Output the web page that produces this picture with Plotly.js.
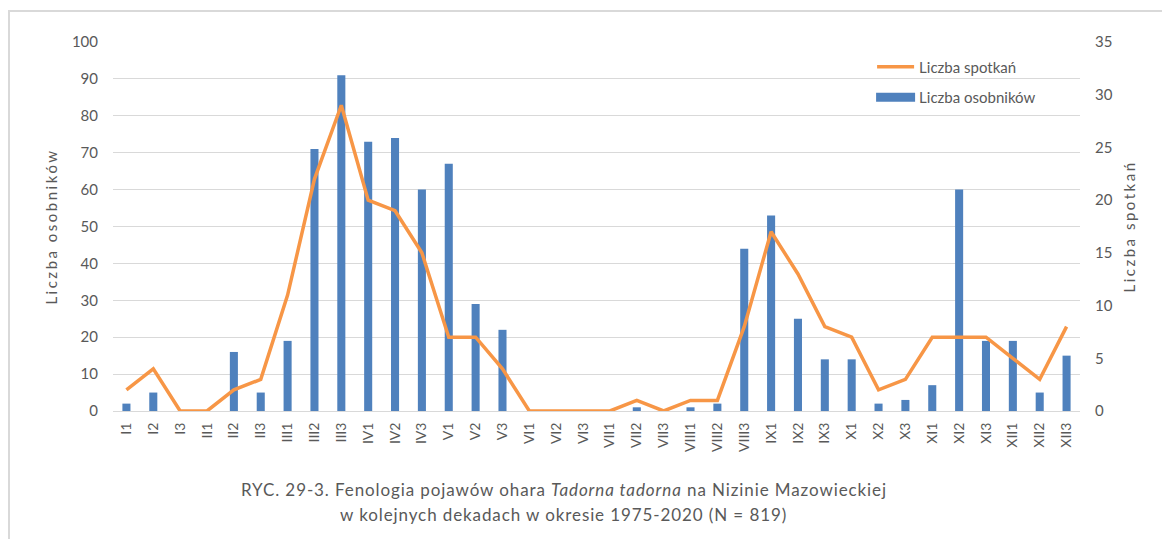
<!DOCTYPE html>
<html>
<head>
<meta charset="utf-8">
<script src="https://cdn.plot.ly/plotly-3.0.1.min.js"></script>
<style>
  html, body { margin: 0; padding: 0; background: #ffffff; }
  #wrap { position: relative; width: 1162px; height: 539px; }
  #chart { position: absolute; left: 0; top: 0; width: 1162px; height: 539px; }
  #frame { position: absolute; left: 8px; top: 10px; width: 1160px; height: 540px;
           border-top: 2px solid #d9d9d9; border-left: 2px solid #d9d9d9; pointer-events: none; }
  .ytitle, .y2title { letter-spacing: 2.5px; }
  .annotation-text { letter-spacing: 0.9px; }
</style>
</head>
<body>
<div id="wrap">
  <div id="chart"></div>
  <div id="frame"></div>
</div>
<script>
const categories = ['I1','I2','I3','II1','II2','II3','III1','III2','III3','IV1','IV2','IV3',
  'V1','V2','V3','VI1','VI2','VI3','VII1','VII2','VII3','VIII1','VIII2','VIII3',
  'IX1','IX2','IX3','X1','X2','X3','XI1','XI2','XI3','XII1','XII2','XII3'];
const osobnikow = [2,5,0,0,16,5,19,71,91,73,74,60,
  67,29,22,0,0,0,0,1,0,1,2,44,
  53,25,14,14,2,3,7,60,19,19,5,15];
const spotkan = [2,4,0,0,2,3,11,22,29,20,19,15,
  7,7,4,0,0,0,0,1,0,1,1,8,
  17,13,8,7,2,3,7,7,7,5,3,8];
const leftTicks = [0,10,20,30,40,50,60,70,80,90,100];
const rightTicks = [0,5,10,15,20,25,30,35];

const font = 'Lato, "Open Sans", sans-serif';
const gray = '#595959';

const traces = [
  {
    type: 'bar', name: 'Liczba osobników', x: categories, y: osobnikow,
    marker: { color: '#4f81bd' }, yaxis: 'y', legendrank: 2, legendgroup: 'b'
  },
  {
    type: 'scatter', mode: 'lines', name: 'Liczba spotkań', x: categories, y: spotkan,
    line: { color: '#f79646', width: 3.5 }, yaxis: 'y2', legendrank: 1, legendgroup: 'a'
  }
];

const layout = {
  width: 1162, height: 539,
  margin: { l: 113, r: 82, t: 42, b: 128 },
  paper_bgcolor: '#ffffff', plot_bgcolor: '#ffffff',
  font: { family: font, color: gray, size: 15 },
  bargap: 0.7,
  showlegend: true,
  legend: {
    x: 0.785, y: 0.977, xanchor: 'left', yanchor: 'top',
    bgcolor: 'rgba(0,0,0,0)', font: { family: font, size: 15, color: gray },
    itemwidth: 37, tracegroupgap: 8, traceorder: 'grouped'
  },
  xaxis: {
    type: 'category', tickangle: -90, showgrid: false,
    showline: true, linecolor: '#d9d9d9', linewidth: 1,
    ticks: '', tickfont: { family: font, size: 14, color: gray },
    ticklabelstandoff: 5
  },
  yaxis: {
    range: [0, 100], tickvals: leftTicks, showgrid: true, gridcolor: '#d9d9d9', gridwidth: 1,
    zeroline: false, showline: false, ticks: '',
    tickfont: { family: font, size: 15, color: gray }, ticklabelstandoff: 14,
    title: { text: 'Liczba osobników', font: { family: font, size: 15, color: gray }, standoff: 10 }
  },
  yaxis2: {
    range: [0, 35], tickvals: rightTicks, overlaying: 'y', side: 'right', showgrid: false,
    zeroline: false, showline: false, ticks: '',
    tickfont: { family: font, size: 15, color: gray }, ticklabelstandoff: 14,
    title: { text: 'Liczba spotkań', font: { family: font, size: 15, color: gray }, standoff: 12 }
  },
  annotations: [
    {
      xref: 'paper', yref: 'paper', x: 0.466, y: -0.212, xanchor: 'center', yanchor: 'middle',
      showarrow: false, font: { family: font, size: 17, color: gray },
      text: 'RYC. 29-3. Fenologia pojawów ohara <i>Tadorna tadorna</i> na Nizinie Mazowieckiej'
    },
    {
      xref: 'paper', yref: 'paper', x: 0.466, y: -0.280, xanchor: 'center', yanchor: 'middle',
      showarrow: false, font: { family: font, size: 17, color: gray },
      text: 'w kolejnych dekadach w okresie 1975-2020 (N = 819)'
    }
  ]
};

Plotly.newPlot('chart', traces, layout, { displayModeBar: false, staticPlot: true }).then(function (gd) {
  // widen the bar legend symbol to match the line sample width (as in the reference)
  const linePath = gd.querySelector('.legend .legendlines path');
  const barPath = gd.querySelector('.legend .legendpoints path');
  if (linePath && barPath) {
    const lr = linePath.getBoundingClientRect();
    const br = barPath.getBoundingClientRect();
    const left = -6 + (lr.left - br.left) - 1;
    const right = left + lr.width + 2;
    barPath.setAttribute('d', 'M' + right + ',4.5H' + left + 'V-4.5H' + right + 'Z');
  }
});
</script>
</body>
</html>
